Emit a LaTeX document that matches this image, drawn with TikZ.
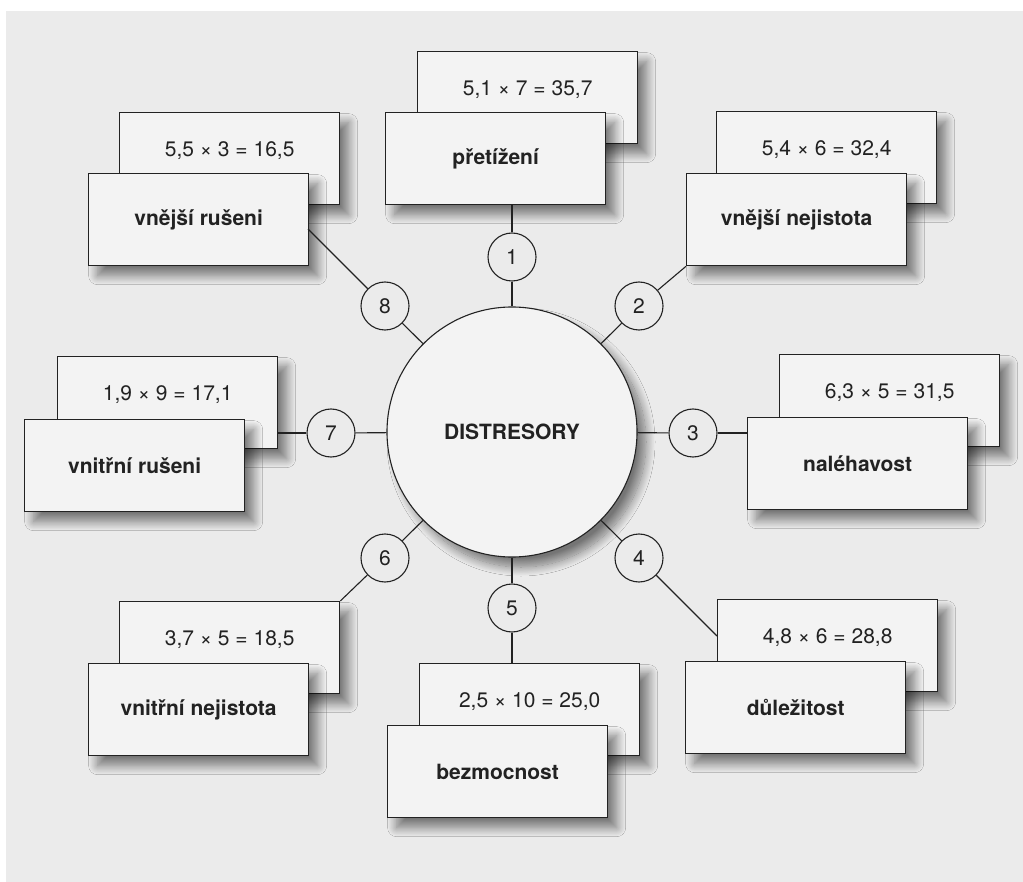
\documentclass[tikz,border=0pt]{standalone}
\usepackage{fontspec}
\setmainfont{TeX Gyre Heros}
\usetikzlibrary{shadows.blur}

\definecolor{paper}{HTML}{EBEBEB}
\definecolor{cardfill}{HTML}{F3F3F3}
\definecolor{ink}{HTML}{222222}

\begin{document}
\begin{tikzpicture}[x=1pt,y=-1pt,
  soft/.style={blur shadow={shadow xshift=9pt, shadow yshift=-10pt, shadow blur steps=16,
      shadow blur radius=9pt, shadow opacity=50}},
  card/.style={draw=ink, line width=1.3pt, fill=cardfill, anchor=north west,
    minimum width=220pt, minimum height=92pt, inner sep=0pt, soft},
  labeltext/.style={font=\fontsize{21}{24}\selectfont\bfseries, text=ink},
  valuetext/.style={font=\fontsize{21}{24}\selectfont, text=ink},
  hub/.style={circle, draw=ink, line width=1.1pt, fill=cardfill, minimum size=250pt,
    inner sep=0pt, font=\fontsize{21}{24}\selectfont\bfseries, text=ink, soft},
  num/.style={circle, draw=ink, line width=1.1pt, fill=paper, minimum size=48pt,
    inner sep=0pt, font=\fontsize{21}{24}\selectfont, text=ink},
  link/.style={draw=ink, line width=1.1pt}]

% page
\useasboundingbox (0,0) rectangle (1023,882);
\fill[white] (0,0) rectangle (1023,882);
\fill[paper] (6,11) rectangle (1023,882);

% value cards (behind)
\node[card] (b1) at (417,51) {};
\node[valuetext] (t1) at ([yshift=-39pt]b1.north) {5,1 × 7 = 35,7};
\node[card] (b2) at (716,111) {};
\node[valuetext] (t2) at ([yshift=-39pt]b2.north) {5,4 × 6 = 32,4};
\node[card] (b3) at (779,354) {};
\node[valuetext] (t3) at ([yshift=-39pt]b3.north) {6,3 × 5 = 31,5};
\node[card] (b4) at (717,599) {};
\node[valuetext] (t4) at ([yshift=-39pt]b4.north) {4,8 × 6 = 28,8};
\node[card] (b5) at (419,663) {};
\node[valuetext] (t5) at ([yshift=-39pt]b5.north) {2,5 × 10 = 25,0};
\node[card] (b6) at (119,601) {};
\node[valuetext] (t6) at ([yshift=-39pt]b6.north) {3,7 × 5 = 18,5};
\node[card] (b7) at (57,356) {};
\node[valuetext] (t7) at ([yshift=-39pt]b7.north) {1,9 × 9 = 17,1};
\node[card] (b8) at (119,112) {};
\node[valuetext] (t8) at ([yshift=-39pt]b8.north) {5,5 × 3 = 16,5};

% name cards (in front)
\node[card, labeltext] (p1) at (385,112) {přetížení};
\node[card, labeltext] (p2) at (686,173) {vnější nejistota};
\node[card, labeltext] (p3) at (747,417) {naléhavost};
\node[card, labeltext] (p4) at (685,661) {důležitost};
\node[card, labeltext] (p5) at (387,725) {bezmocnost};
\node[card, labeltext] (p6) at (88,663) {vnitřní nejistota};
\node[card, labeltext] (p7) at (24,419) {vnitřní rušeni};
\node[card, labeltext] (p8) at (88,173) {vnější rušeni};

% centre and numbered spokes
\node[hub] (hub) at (512,432) {DISTRESORY};
\node[num] (c1) at (512,257) {1};
\node[num] (c2) at (639,306) {2};
\node[num] (c3) at (693,433) {3};
\node[num] (c4) at (639,558) {4};
\node[num] (c5) at (512,608) {5};
\node[num] (c6) at (385,558) {6};
\node[num] (c7) at (331,433) {7};
\node[num] (c8) at (385,306) {8};

\coordinate (e4) at (717,636);
\coordinate (e8) at (308,229);

\foreach \i in {1,...,8} { \draw[link] (hub) -- (c\i); }
\draw[link] (c1) -- (c1 |- p1.south);
\draw[link] (c2) -- (p2.south west);
\draw[link] (c3) -- (c3 -| p3.west);
\draw[link] (c4) -- (e4);
\draw[link] (c5) -- (c5 |- b5.north);
\draw[link] (c6) -- (b6.north east);
\draw[link] (c7) -- (c7 -| b7.east);
\draw[link] (c8) -- (e8);
\end{tikzpicture}
\end{document}
